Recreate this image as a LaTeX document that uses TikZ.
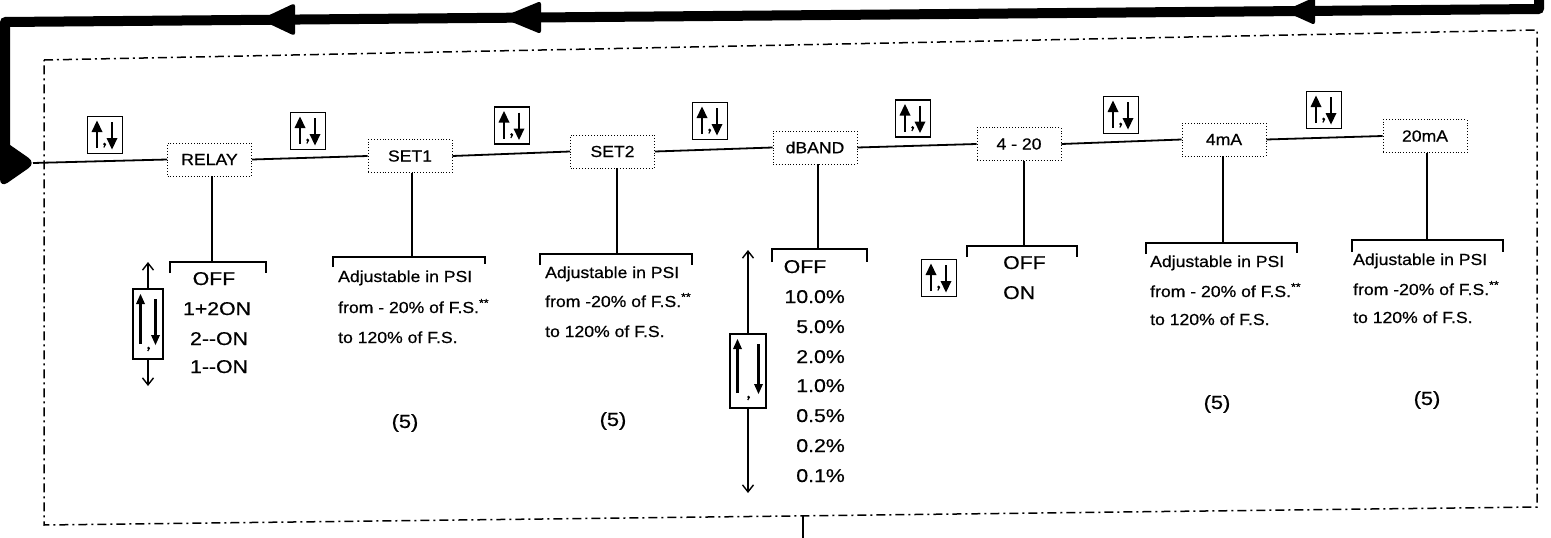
\documentclass[tikz,border=0pt]{standalone}
\usepackage{fontspec}
\setmainfont{Liberation Sans}
\newfontfamily\wideA{Liberation Sans}[FakeStretch=1.1,FakeBold=0.6]
\newfontfamily\wideB{Liberation Sans}[FakeStretch=1.15,FakeBold=0.6]
\usetikzlibrary{arrows.meta}
\newcommand\fLbl{\wideA\fontsize{16}{18}\selectfont}
\newcommand\fAdj{\wideA\fontsize{16}{18}\selectfont}
\newcommand\fOpt{\wideB\fontsize{18.5}{20}\selectfont}
\newcommand\fFive{\wideB\fontsize{19}{21}\selectfont}
\tikzset{
  menubox/.style={draw, dotted, line width=0.9pt, minimum width=84pt, minimum height=33pt, inner sep=0pt, font=\fLbl},
  wire/.style={line width=1.8pt},
  dashframe/.style={line width=1.5pt, dash pattern=on 9pt off 4pt on 2pt off 4pt},
  thickloop/.style={line width=10pt, line join=round},
  bighead/.style={fill, rounded corners=3pt},
  blobhead/.style={fill, rounded corners=9pt},
  openarrow/.style={line width=1.4pt, -{Straight Barb[length=7pt,width=11pt]}},
  adj/.style={inner sep=0pt, anchor=base west, font=\fAdj},
  optc/.style={inner sep=0pt, anchor=base, font=\fOpt},
  optr/.style={inner sep=0pt, anchor=base east, font=\fOpt},
  optl/.style={inner sep=0pt, anchor=base west, font=\fOpt},
  fivelbl/.style={inner sep=0pt, font=\fFive},
  pics/keyud/.style={code={
    \draw[line width=1.8pt] (-17.5,-18.5) rectangle (17.5,18.5);
    \draw[line width=2.2pt] (-8,13) -- (-8,-5);
    \fill (-8,-14.5) -- (-13.5,-3) -- (-2.5,-3) -- cycle;
    \draw[line width=2.2pt] (7,-13) -- (7,4);
    \fill (7,14.5) -- (1.5,3) -- (12.5,3) -- cycle;
    \fill (-0.5,9) circle (1.5);
    \draw[line width=1.2pt] (0.6,9) -- (-1.2,12.5);
  }},
  pics/tallkey/.style 2 args={code={
    \draw[line width=1.8pt] (-#1,-#2) rectangle (#1,#2);
    \draw[line width=2.2pt] (-#1+7.5,#2-15) -- (-#1+7.5,-#2+12);
    \fill (-#1+7.5,-#2+5) -- (-#1+3,-#2+15) -- (-#1+12,-#2+15) -- cycle;
    \draw[line width=2.2pt] (#1-7.5,-#2+10) -- (#1-7.5,#2-22);
    \fill (#1-7.5,#2-14) -- (#1-12,#2-24) -- (#1-3,#2-24) -- cycle;
    \fill (0.5,#2-11) circle (1.4);
    \draw[line width=1.2pt] (1.5,#2-11) -- (-0.3,#2-8);
  }}
}
\begin{document}
\begin{tikzpicture}[x=1pt,y=-1pt]
\useasboundingbox (0,0) rectangle (1551,538);

% dash-dot frame
\draw[dashframe] (44,60) -- (1537,30) -- (1537,507) -- (44,525) -- cycle;
\coordinate (bt) at (803,516);
\coordinate (bb) at (803,545);
\draw[wire] (bt) -- (bb);

% thick return loop
\coordinate (l0) at (1539,-8);
\coordinate (l1) at (1539,9);
\coordinate (l2) at (5,22);
\coordinate (l3) at (5,152);
\draw[thickloop] (l0) -- (l1) -- (l2) -- (l3);
\fill[bighead] (260,19.5) -- (295,3) -- (295,36) -- cycle;
\fill[bighead] (501,17.5) -- (541,1) -- (541,34) -- cycle;
\fill[bighead] (1284,11) -- (1315,-3) -- (1315,25) -- cycle;
\fill[blobhead] (36,163) -- (0,138) -- (0,188) -- cycle;

% menu boxes
\node[menubox] (relay) at (209.5,159.5) {RELAY};
\node[menubox] (set1)  at (410,156) {SET1};
\node[menubox] (set2)  at (612.5,151.5) {SET2};
\node[menubox] (dband) at (815,147.5) {dBAND};
\node[menubox] (f420)  at (1019,144) {4 - 20};
\node[menubox] (ma4)   at (1224,139.5) {4mA};
\node[menubox] (ma20)  at (1425,136) {20mA};

% main line
\coordinate (start) at (33,163);
\draw[wire] (start) -- (relay.west);
\draw[wire] (relay.east) -- (set1.west);
\draw[wire] (set1.east) -- (set2.west);
\draw[wire] (set2.east) -- (dband.west);
\draw[wire] (dband.east) -- (f420.west);
\draw[wire] (f420.east) -- (ma4.west);
\draw[wire] (ma4.east) -- (ma20.west);

% keys on the main line
\pic at (105,135) {keyud};
\pic at (308,131) {keyud};
\pic at (512,125.5) {keyud};
\pic at (710,121) {keyud};
\pic at (913,118.5) {keyud};
\pic at (1121,115) {keyud};
\pic at (1324,110) {keyud};
\pic at (939,278) {keyud};

% stems and brackets
\coordinate (b1) at (212,262);
\draw[wire] (relay.south -| b1) -- (b1);
\draw[wire] (170,273) |- (266,262) -- (266,273);
\coordinate (b2) at (412,257);
\draw[wire] (set1.south -| b2) -- (b2);
\draw[wire] (333,267) |- (485,257) -- (485,264);
\coordinate (b3) at (617,254);
\draw[wire] (set2.south -| b3) -- (b3);
\draw[wire] (540,265) |- (692,254) -- (692,265);
\coordinate (b4) at (818,249);
\draw[wire] (dband.south -| b4) -- (b4);
\draw[wire] (772,262) |- (867,249) -- (867,262);
\coordinate (b5) at (1024,246);
\draw[wire] (f420.south -| b5) -- (b5);
\draw[wire] (967,257) |- (1077,246) -- (1077,257);
\coordinate (b6) at (1223,243);
\draw[wire] (ma4.south -| b6) -- (b6);
\draw[wire] (1146,254) |- (1297,243) -- (1297,253);
\coordinate (b7) at (1427,240);
\draw[wire] (ma20.south -| b7) -- (b7);
\draw[wire] (1352,252) |- (1503,240) -- (1503,252);

% RELAY options
\node[optc] (r1) at (214,285) {OFF};
\node[optc] (r2) at (217,315) {1+2ON};
\node[optc] (r3) at (219,345) {2-{}-ON};
\node[optc] (r4) at (219,373) {1-{}-ON};
\pic at (148,324) {tallkey={15}{35}};
\coordinate (rkt) at (148,289);
\coordinate (rkT) at (148,262);
\coordinate (rkb) at (148,359);
\coordinate (rkB) at (148,386);
\draw[openarrow] (rkt) -- (rkT);
\draw[openarrow] (rkb) -- (rkB);

% SET1
\node[adj] (s1a) at (338,282) {Adjustable in PSI};
\node[adj] (s1b) at (338,313) {from - 20\% of F.S.\textsuperscript{**}};
\node[adj] (s1c) at (338,343) {to 120\% of F.S.};
\node[fivelbl] (s1n) at (405,423) {(5)};

% SET2
\node[adj] (s2a) at (545,278) {Adjustable in PSI};
\node[adj] (s2b) at (545,307) {from -20\% of F.S.\textsuperscript{**}};
\node[adj] (s2c) at (545,337) {to 120\% of F.S.};
\node[fivelbl] (s2n) at (613,421) {(5)};

% dBAND options
\node[optc] (d0) at (805,273) {OFF};
\node[optr] (d1) at (845,303) {10.0\%};
\node[optr] (d2) at (845,333) {5.0\%};
\node[optr] (d3) at (845,363) {2.0\%};
\node[optr] (d4) at (845,392) {1.0\%};
\node[optr] (d5) at (845,422) {0.5\%};
\node[optr] (d6) at (845,452) {0.2\%};
\node[optr] (d7) at (845,482) {0.1\%};
\pic at (748,371) {tallkey={18}{37}};
\coordinate (dkt) at (748,334);
\coordinate (dkT) at (748,250);
\coordinate (dkb) at (748,408);
\coordinate (dkB) at (748,493);
\draw[openarrow] (dkt) -- (dkT);
\draw[openarrow] (dkb) -- (dkB);

% 4-20 options
\node[optl] (f1) at (1003,269) {OFF};
\node[optl] (f2) at (1003,299) {ON};

% 4mA
\node[adj] (m4a) at (1150,267) {Adjustable in PSI};
\node[adj] (m4b) at (1150,297) {from - 20\% of F.S.\textsuperscript{**}};
\node[adj] (m4c) at (1150,325) {to 120\% of F.S.};
\node[fivelbl] (m4n) at (1217,404) {(5)};

% 20mA
\node[adj] (m20a) at (1353,265) {Adjustable in PSI};
\node[adj] (m20b) at (1353,295) {from -20\% of F.S.\textsuperscript{**}};
\node[adj] (m20c) at (1353,323) {to 120\% of F.S.};
\node[fivelbl] (m20n) at (1427,400) {(5)};
\end{tikzpicture}
\end{document}
